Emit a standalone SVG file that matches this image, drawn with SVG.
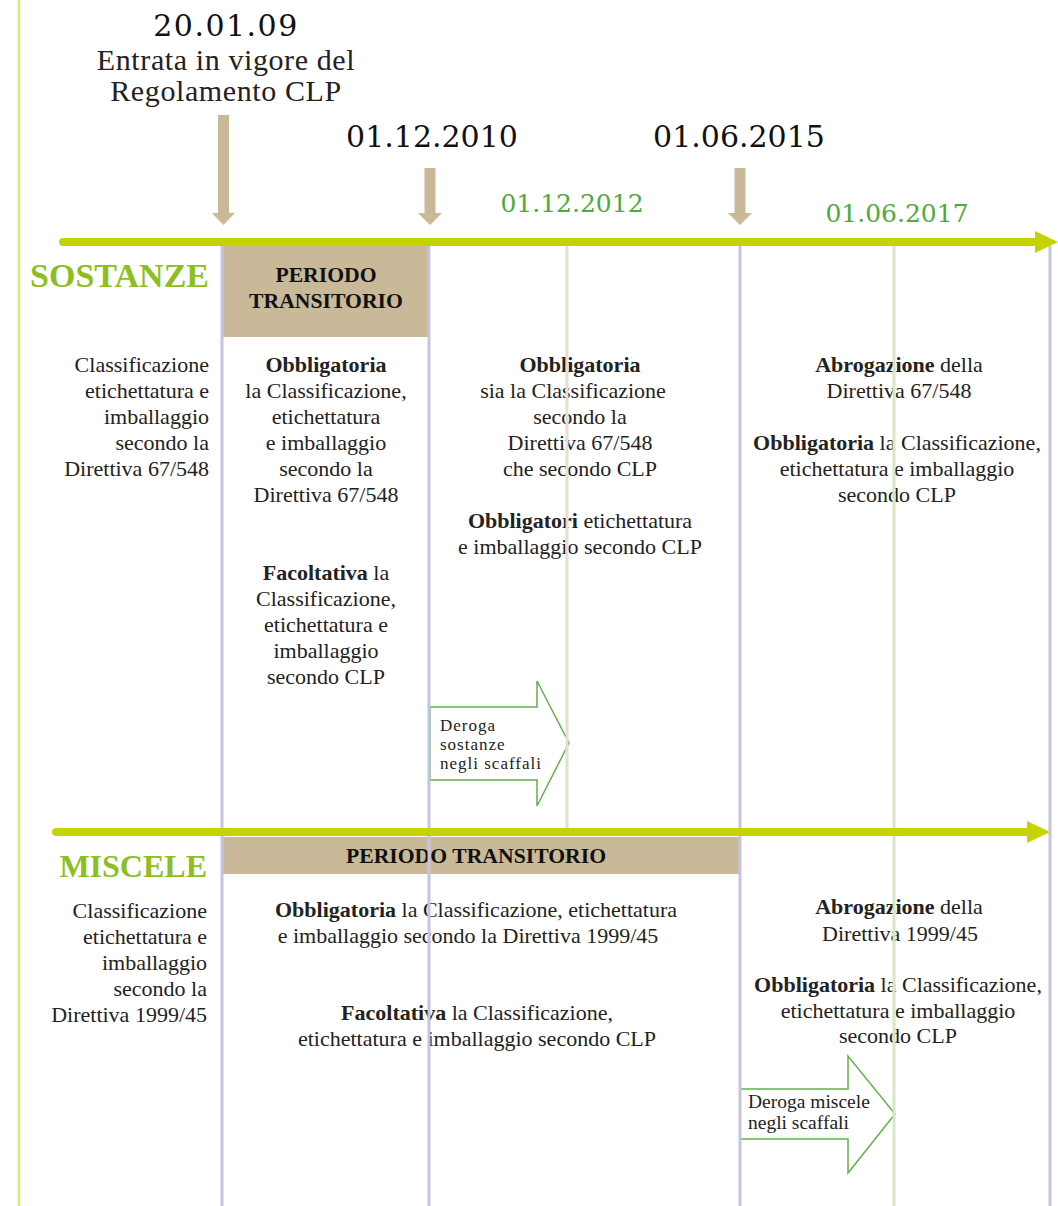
<svg xmlns="http://www.w3.org/2000/svg" width="1058" height="1206" viewBox="0 0 1058 1206">
<defs>
<style>
.t{font-family:"Liberation Serif","Times New Roman",serif;font-size:22px;fill:#222;}
.c{text-anchor:middle;}
.r{text-anchor:end;}
.b{font-weight:bold;}
.date{font-family:"DejaVu Serif",serif;font-size:30px;fill:#111;text-anchor:middle;}
.gdate{font-family:"DejaVu Serif",serif;font-size:25px;fill:#4eaa3c;text-anchor:middle;}
.head{font-family:"Liberation Serif",serif;font-size:30px;letter-spacing:0.6px;fill:#222;text-anchor:middle;}
.sec{font-family:"Liberation Serif",serif;font-weight:bold;fill:#8dbf1e;text-anchor:end;}
.per{font-family:"Liberation Serif",serif;font-size:21.7px;font-weight:bold;fill:#111;text-anchor:middle;}
.box{fill:#c9b999;}
.dn{fill:#c9b999;}
.lav{stroke:#c6c3e2;stroke-width:3;}
.tl{stroke:#c5d300;stroke-width:8;stroke-linecap:round;}
.tlh{fill:#c5d300;}
.der{fill:#fff;stroke:#63b14a;stroke-width:1.5;}
.dt{font-family:"Liberation Serif",serif;fill:#222;}
</style>
</defs>
<rect width="1058" height="1206" fill="#fff"/>
<line x1="19" y1="0" x2="19" y2="1206" stroke="#dfe67e" stroke-width="2.5"/>

<g id="header">
<text class="date" x="226" y="36" font-size="26" letter-spacing="1.5">20.01.09</text>
<text class="head" x="226" y="70">Entrata in vigore del</text>
<text class="head" x="226" y="101">Regolamento CLP</text>
<text class="date" x="432" y="147">01.12.2010</text>
<text class="date" x="739" y="147">01.06.2015</text>
<text class="gdate" x="572" y="212">01.12.2012</text>
<text class="gdate" x="897" y="222">01.06.2017</text>
</g>

<g id="date-arrows">
<polygon class="dn" points="218,115 229,115 229,213 235,213 223.5,225 212,213 218,213"/>
<polygon class="dn" points="424.5,168 435.5,168 435.5,213 442,213 430,225 418,213 424.5,213"/>
<polygon class="dn" points="734.5,168 745.5,168 745.5,213 752,213 740,225 728,213 734.5,213"/>
</g>

<g id="periodo-sostanze">
<rect class="box" x="222" y="245" width="208" height="92"/>
<text class="per" x="326" y="282">PERIODO</text>
<text class="per" x="326" y="308">TRANSITORIO</text>
</g>
<g id="periodo-miscele">
<rect class="box" x="222" y="837" width="518" height="37"/>
<text class="per" x="476" y="863">PERIODO TRANSITORIO</text>
</g>

<g id="label-sostanze"><text class="sec" x="209" y="287" font-size="34">SOSTANZE</text></g>
<g id="label-miscele"><text class="sec" x="207" y="877" font-size="32">MISCELE</text></g>

<g id="sost-col1">
<text class="t r" x="209" y="372">Classificazione</text>
<text class="t r" x="209" y="398">etichettatura e</text>
<text class="t r" x="209" y="424">imballaggio</text>
<text class="t r" x="209" y="450">secondo la</text>
<text class="t r" x="209" y="476">Direttiva 67/548</text>
</g>
<g id="sost-col2">
<text class="t c b" x="326" y="372">Obbligatoria</text>
<text class="t c" x="326" y="398">la Classificazione,</text>
<text class="t c" x="326" y="424">etichettatura</text>
<text class="t c" x="326" y="450">e imballaggio</text>
<text class="t c" x="326" y="476">secondo la</text>
<text class="t c" x="326" y="502">Direttiva 67/548</text>
<text class="t c" x="326" y="580"><tspan class="b">Facoltativa</tspan> la</text>
<text class="t c" x="326" y="606">Classificazione,</text>
<text class="t c" x="326" y="632">etichettatura e</text>
<text class="t c" x="326" y="658">imballaggio</text>
<text class="t c" x="326" y="684">secondo CLP</text>
</g>
<g id="sost-col3">
<text class="t c b" x="580" y="372">Obbligatoria</text>
<text class="t c" x="573" y="398">sia la Classificazione</text>
<text class="t c" x="580" y="424">secondo la</text>
<text class="t c" x="580" y="450">Direttiva 67/548</text>
<text class="t c" x="580" y="476">che secondo CLP</text>
<text class="t c" x="580" y="528"><tspan class="b">Obbligatori</tspan> etichettatura</text>
<text class="t c" x="580" y="554">e imballaggio secondo CLP</text>
</g>
<g id="sost-col4">
<text class="t c" x="899" y="372"><tspan class="b">Abrogazione</tspan> della</text>
<text class="t c" x="899" y="398">Direttiva 67/548</text>
<text class="t c" x="897" y="450"><tspan class="b">Obbligatoria</tspan> la Classificazione,</text>
<text class="t c" x="897" y="476">etichettatura e imballaggio</text>
<text class="t c" x="897" y="502">secondo CLP</text>
</g>

<g id="misc-col1">
<text class="t r" x="207" y="918">Classificazione</text>
<text class="t r" x="207" y="944">etichettatura e</text>
<text class="t r" x="207" y="970">imballaggio</text>
<text class="t r" x="207" y="996">secondo la</text>
<text class="t r" x="207" y="1022">Direttiva 1999/45</text>
</g>
<g id="misc-col2">
<text class="t c" x="476" y="917"><tspan class="b">Obbligatoria</tspan> la Classificazione, etichettatura</text>
<text class="t c" x="468" y="943">e imballaggio secondo la Direttiva 1999/45</text>
<text class="t c" x="477" y="1020"><tspan class="b">Facoltativa</tspan> la Classificazione,</text>
<text class="t c" x="477" y="1046">etichettatura e imballaggio secondo CLP</text>
</g>
<g id="misc-col4">
<text class="t c" x="899" y="914"><tspan class="b">Abrogazione</tspan> della</text>
<text class="t c" x="900" y="941">Direttiva 1999/45</text>
<text class="t c" x="898" y="992"><tspan class="b">Obbligatoria</tspan> la Classificazione,</text>
<text class="t c" x="898" y="1018">etichettatura e imballaggio</text>
<text class="t c" x="898" y="1043">secondo CLP</text>
</g>

<g id="deroga-sostanze">
<polygon class="der" points="430,707 537,707 537,681 569,743 537,806 537,780 430,780"/>
<text class="dt" x="440" y="731" font-size="17" letter-spacing="1">Deroga</text>
<text class="dt" x="440" y="750" font-size="17" letter-spacing="1">sostanze</text>
<text class="dt" x="440" y="769" font-size="17" letter-spacing="1">negli scaffali</text>
</g>
<g id="deroga-miscele">
<polygon class="der" points="740,1089 848,1089 848,1056 895,1114 848,1173 848,1139 740,1139"/>
<text class="dt" x="748" y="1108" font-size="19.5">Deroga miscele</text>
<text class="dt" x="748" y="1129" font-size="19.5">negli scaffali</text>
</g>

<g id="connectors">
<line class="lav" x1="222" y1="242" x2="222" y2="1206"/>
<line class="lav" x1="429" y1="242" x2="429" y2="1206"/>
<line class="lav" x1="740" y1="242" x2="740" y2="1206"/>
<line class="lav" x1="1050" y1="246" x2="1050" y2="1206"/>
<line x1="567" y1="242" x2="567" y2="830" stroke="#e5dfd2" stroke-width="3"/>
<line x1="894" y1="242" x2="894" y2="1206" stroke="#d5e7c3" stroke-width="3"/>
<line class="tl" x1="63" y1="242" x2="1038" y2="242"/>
<polygon class="tlh" points="1035,231 1058,242 1035,253"/>
<line class="tl" x1="56" y1="832" x2="1030" y2="832"/>
<polygon class="tlh" points="1027,821 1050,832 1027,843"/>
</g>
</svg>
